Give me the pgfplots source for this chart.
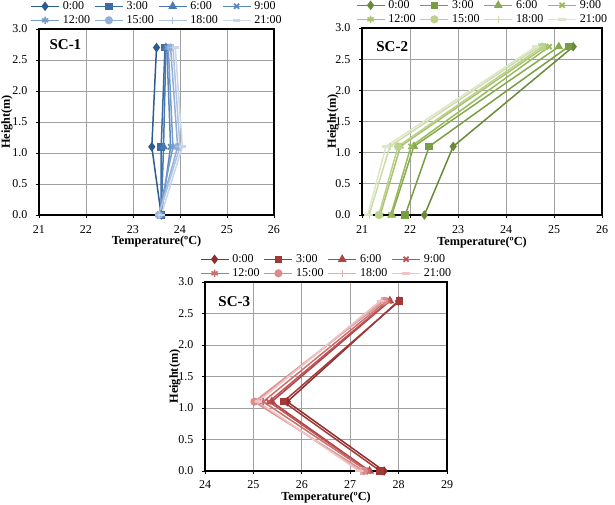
\documentclass[border=0pt]{standalone}
\usepackage{fontspec}
\setmainfont{Liberation Serif}
\usepackage{pgfplots}
\pgfplotsset{compat=1.18}
\usepackage{pgfplotstable}

% Vertical temperature profiles: columns are hours of the day, rows are heights (m)
\pgfplotstableread{
h    t0    t3    t6    t9    t12   t15   t18   t21
0    23.60 23.60 23.60 23.60 23.55 23.55 23.55 23.60
1.1  23.40 23.60 23.65 23.80 23.85 23.95 24.00 24.05
2.7  23.50 23.68 23.70 23.72 23.75 23.80 23.85 23.90
}\scone
\pgfplotstableread{
h    t0    t3    t6    t9    t12   t15   t18   t21
0    22.30 21.90 21.62 21.60 21.38 21.35 21.15 21.12
1.1  22.90 22.40 22.08 22.02 21.80 21.75 21.58 21.50
2.7  25.40 25.30 25.10 24.90 24.82 24.75 24.68 24.62
}\sctwo
\pgfplotstableread{
h    t0    t3    t6    t9    t12   t15   t18   t21
0    27.70 27.62 27.40 27.38 27.35 27.28 27.22 27.18
1.1  25.70 25.62 25.38 25.32 25.20 25.02 25.08 25.10
2.7  28.00 28.02 27.82 27.80 27.75 27.70 27.66 27.62
}\scthree

\definecolor{gridgray}{HTML}{A0A0A0}
\definecolor{b0}{HTML}{2F5C8F}\definecolor{b1}{HTML}{3C6BA6}
\definecolor{b2}{HTML}{4A79B3}\definecolor{b3}{HTML}{5C88C0}
\definecolor{b4}{HTML}{769CCB}\definecolor{b5}{HTML}{91AFD7}
\definecolor{b6}{HTML}{ADC3E1}\definecolor{b7}{HTML}{C8D6EB}
\definecolor{g0}{HTML}{6B8A38}\definecolor{g1}{HTML}{789D42}
\definecolor{g2}{HTML}{86AB4D}\definecolor{g3}{HTML}{9ABB5B}
\definecolor{g4}{HTML}{A9C46F}\definecolor{g5}{HTML}{BCD18C}
\definecolor{g6}{HTML}{CDDDA9}\definecolor{g7}{HTML}{DDE7C7}
\definecolor{r0}{HTML}{8E2F2E}\definecolor{r1}{HTML}{A23838}
\definecolor{r2}{HTML}{B04444}\definecolor{r3}{HTML}{BF5252}
\definecolor{r4}{HTML}{CD6F6F}\definecolor{r5}{HTML}{DA8C8C}
\definecolor{r6}{HTML}{E5AAAA}\definecolor{r7}{HTML}{EEC4C4}

% #1: table, #2: colour prefix
\newcommand{\hourplots}[2]{%
  \addplot[series, color=#20, mark=diamond*, mark size=3.6pt] table[x=t0,y=h] {#1};
  \addplot[series, color=#21, mark=square*, mark size=3pt] table[x=t3,y=h] {#1};
  \addplot[series, color=#22, mark=triangle*, mark size=3.6pt] table[x=t6,y=h] {#1};
  \addplot[series, color=#23, mark=x, mark size=3.6pt, mark options={line width=1.8pt}] table[x=t9,y=h] {#1};
  \addplot[series, color=#24, mark=asterisk, mark size=3.6pt, mark options={line width=1.6pt}] table[x=t12,y=h] {#1};
  \addplot[series, color=#25, mark=*, mark size=3.3pt] table[x=t15,y=h] {#1};
  \addplot[series, color=#26, mark=+, mark size=3.6pt, mark options={line width=1.4pt}] table[x=t18,y=h] {#1};
  \addplot[series, color=#27, mark=-, mark size=3.6pt, mark options={line width=2.6pt}] table[x=t21,y=h] {#1};
  \legend{0:00,3:00,6:00,9:00,12:00,15:00,18:00,21:00}
}

\newcommand{\labelfont}{\fontsize{12.3}{14}\selectfont\bfseries}

\pgfplotsset{
  panel/.style={
    scale only axis,
    ymin=0, ymax=3, ytick={0,0.5,1,1.5,2,2.5,3},
    xtick distance=1,
    /pgf/number format/assume math mode=true,
    yticklabel style={xshift=-5pt, /pgf/number format/.cd,fixed,fixed zerofill,precision=1},
    xticklabel style={yshift=-4pt},
    ticklabel style={font=\fontsize{12}{14}\selectfont},
    grid=major,
    major grid style={line width=0.9pt, color=gridgray},
    axis line style={line width=1.1pt, black},
    tick align=outside, major tick length=3pt,
    tick style={black, line width=0.9pt},
    xtick pos=bottom, ytick pos=left,
    xlabel={Temperature(ºC)},
    ylabel={Height(m)},
    legend columns=4,
    legend cell align=left,
    legend image code/.code={%
      \draw[mark repeat=2,mark phase=2,##1] plot coordinates {(0pt,0pt) (14pt,0pt) (28pt,0pt)};},
    legend style={at={(axis description cs:0.5,1)}, anchor=south, yshift=1.5pt,
      draw=none, fill=none, inner sep=0pt,
      font=\fontsize{12}{14}\selectfont,
      nodes={inner sep=1pt, text height=9pt, text depth=3pt},
      row sep=0pt,
      /tikz/every odd column/.append style={column sep=2pt},
      /tikz/every even column/.append style={column sep=3pt}},
  },
  series/.style={line width=1.5pt, solid},
}

\begin{document}
\begin{tikzpicture}
\useasboundingbox (0,0) rectangle (615pt,505pt);

% SC-1
\begin{axis}[panel, at={(39pt,290pt)}, anchor=south west,
    width=235pt, height=186pt, xmin=21, xmax=26,
    every axis x label/.style={at={(axis description cs:0.5,-0.145)}, anchor=center, font=\labelfont},
    every axis y label/.style={at={(axis description cs:-0.136,0.5)}, anchor=center, rotate=90, font=\labelfont}]
  \hourplots{\scone}{b}
  \node[anchor=west, font=\fontsize{15}{17}\selectfont\bfseries] at (axis description cs:0.03,0.918) {SC-1};
\end{axis}

% SC-2
\begin{axis}[panel, at={(362pt,290pt)}, anchor=south west,
    width=240pt, height=187pt, xmin=21, xmax=26,
    every axis x label/.style={at={(axis description cs:0.5,-0.145)}, anchor=center, font=\labelfont},
    every axis y label/.style={at={(axis description cs:-0.121,0.5)}, anchor=center, rotate=90, font=\labelfont}]
  \hourplots{\sctwo}{g}
  \node[anchor=west, font=\fontsize{15}{17}\selectfont\bfseries] at (axis description cs:0.045,0.90) {SC-2};
\end{axis}

% SC-3
\begin{axis}[panel, at={(205pt,34pt)}, anchor=south west,
    width=242pt, height=189pt, xmin=24, xmax=29,
    xticklabel style={yshift=1pt},
    every axis x label/.style={at={(axis description cs:0.5,-0.143)}, anchor=center, font=\labelfont},
    every axis y label/.style={at={(axis description cs:-0.124,0.5)}, anchor=center, rotate=90, font=\labelfont}]
  \hourplots{\scthree}{r}
  \node[anchor=west, font=\fontsize{15}{17}\selectfont\bfseries] at (axis description cs:0.041,0.896) {SC-3};
\end{axis}
\end{tikzpicture}
\end{document}
